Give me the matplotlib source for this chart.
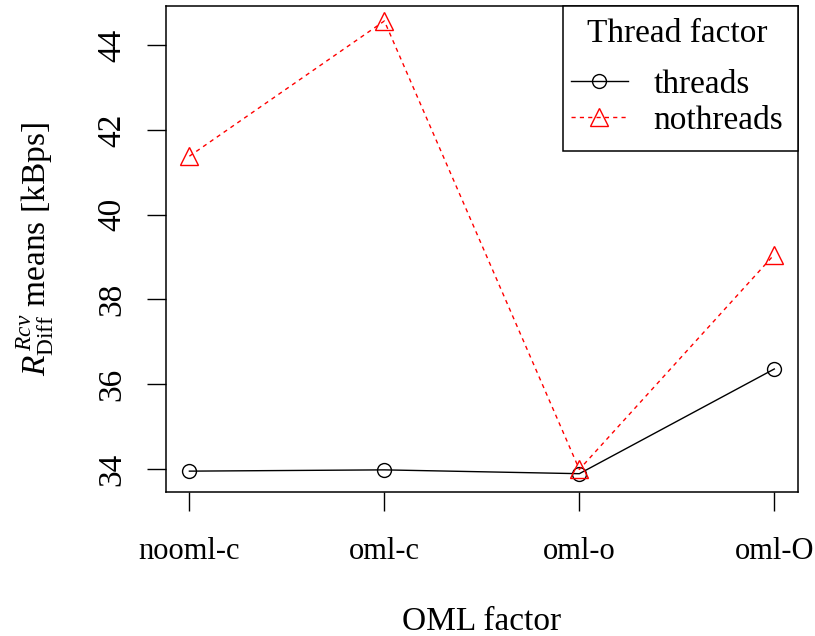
import matplotlib
matplotlib.use("Agg")
import matplotlib.pyplot as plt
from matplotlib.lines import Line2D
from matplotlib.patches import Rectangle

categories = ["nooml-c", "oml-c", "oml-o", "oml-O"]
threads = [33.95, 33.98, 33.89, 36.36]
nothreads = [41.38, 44.57, 33.99, 39.06]
yticks = [34, 36, 38, 40, 42, 44]

plt.rcParams['font.family'] = ['Liberation Serif', 'DejaVu Serif']
plt.rcParams['mathtext.fontset'] = 'custom'
plt.rcParams['mathtext.rm'] = 'Liberation Serif'
plt.rcParams['mathtext.it'] = 'Liberation Serif:italic'

FS = 24
W, H = 815, 636
fig = plt.figure(figsize=(W/100, H/100), dpi=100)
ax = fig.add_axes([166/W, 1-491.7/H, (797.7-166)/W, (491.7-5.7)/H])

x = list(range(1, len(categories)+1))
ax.plot(x, threads, color='black', lw=1.0, marker='o', ms=10,
        mfc='none', mec='black', mew=1.0, label='threads')
ax.plot(x, nothreads, color='red', lw=1.0, ls=(0, (3, 3)), marker='^', ms=13,
        mfc='none', mec='red', mew=1.0, label='nothreads')

ax.set_xlim(0.88, 4.12)
ax.set_ylim(33.465, 44.93)
ax.set_xticks(x)
ax.set_xticklabels(categories, fontsize=22)
ax.set_yticks(yticks)
ax.set_yticklabels([str(t) for t in yticks], fontsize=FS, rotation=90, va='center')
ax.tick_params(axis='both', direction='out', length=13.5, width=1.0, color='black')
ax.tick_params(axis='x', pad=19)
ax.tick_params(axis='y', pad=14)
for s in ax.spines.values():
    s.set_linewidth(1.1)

ax.set_xlabel('OML factor', fontsize=FS, labelpad=29)
ax.set_ylabel(r'$R^{\,Rcv}_{\mathrm{Diff}}$ means [kBps]', fontsize=FS, labelpad=30)

h = [Line2D([], [], color='black', lw=1.0, marker='o', ms=10, mfc='none', mec='black'),
     Line2D([], [], color='red', lw=1.0, ls=(0, (3, 3)), marker='^', ms=13, mfc='none', mec='red')]
leg = fig.legend(h, ['threads', 'nothreads'], title='Thread factor', loc='upper left',
                 bbox_to_anchor=(561/W, 1-8/H), bbox_transform=fig.transFigure,
                 fontsize=FS, title_fontsize=FS, frameon=False,
                 borderaxespad=0, handlelength=1.7,
                 handletextpad=0.78, borderpad=0.3, labelspacing=0.17)
leg._legend_box.sep = 15
leg.set_zorder(6)

# legend frame (R-style box sharing the top-right corner of the plot region)
x0 = 563 / W * fig.bbox.width
y0 = fig.bbox.height - 151 / H * fig.bbox.height
ab = ax.get_position()
x1 = ab.x1 * fig.bbox.width
y1 = ab.y1 * fig.bbox.height
rect = Rectangle((x0, y0), x1 - x0, y1 - y0, transform=None,
                 fill=True, facecolor='white', edgecolor='black', lw=1.1, zorder=4)
fig.add_artist(rect)

fig.savefig('out.png', dpi=100)
